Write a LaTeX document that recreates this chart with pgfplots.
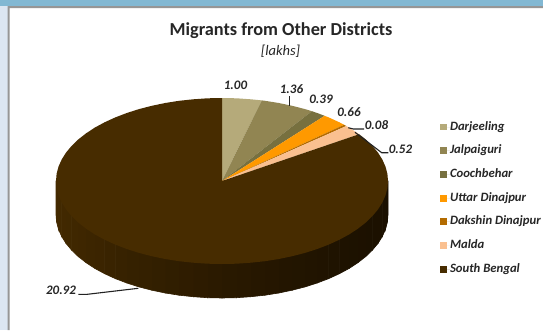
\documentclass[border=0pt]{standalone}
\usepackage{pgfplots}
\pgfplotsset{compat=1.18}
\usepackage{fontspec}
\setmainfont{Carlito}
\definecolor{cA}{HTML}{B5AA7A}
\definecolor{cB}{HTML}{918552}
\definecolor{cC}{HTML}{77703F}
\definecolor{cD}{HTML}{FF9900}
\definecolor{cE}{HTML}{B36B00}
\definecolor{cF}{HTML}{FAC090}
\definecolor{cG}{HTML}{472C00}
\definecolor{wL}{HTML}{442A00}
\definecolor{wR}{HTML}{190F00}
\definecolor{txt}{HTML}{262626}
\definecolor{ldr}{HTML}{222222}
\newcommand\strip[5]{\addplot[forget plot,fill=wL!#1!wR,draw=wL!#1!wR,line width=.6pt] coordinates {(#2,181)(#4,181)(#4,#5)(#2,#3)} --cycle;}
\newcommand\lab[3]{\node[font=\fontsize{13}{15}\selectfont\bfseries\itshape,text=txt,inner sep=0pt] at (axis cs:#1,#2) {#3};}
\begin{document}
\begin{tikzpicture}
\begin{axis}[hide axis,scale only axis,width=543pt,height=330pt,
  xmin=0,xmax=543,ymin=0,ymax=330,y dir=reverse,clip=false,
  legend cell align=left,
  legend style={at={(axis cs:440,121)},anchor=north west,draw=none,fill=none,inner sep=0pt,outer sep=0pt,
    font=\fontsize{12.7}{15}\selectfont\bfseries\itshape,text=txt,
    row sep=11.7pt,nodes={inner sep=0pt,text height=9pt,text depth=3pt}},
  legend image code/.code={\fill[#1] (0pt,-3.4pt) rectangle (6.8pt,3.4pt);\path (0pt,0pt) -- (10pt,0pt);},
]
% frame
\addplot[forget plot,fill=white,draw=none] coordinates {(0,0)(543,0)(543,330)(0,330)} --cycle;
\addplot[forget plot,fill={rgb,255:red,220;green,230;blue,242},draw=none] coordinates {(0,0)(8,0)(8,330)(0,330)} --cycle;
\addplot[forget plot,fill={rgb,255:red,130;green,184;blue,211},draw=none] coordinates {(0,0)(543,0)(543,6)(0,6)} --cycle;
\addplot[forget plot,fill={rgb,255:red,150;green,150;blue,150},draw=none] coordinates {(7.5,6)(543,6)(543,8)(9.5,8)(9.5,330)(7.5,330)} --cycle;
% wall
\strip{0}{388}{215}{387.4}{222.2}
\strip{3}{387.4}{222.2}{385.5}{229.4}
\strip{5}{385.5}{229.4}{382.3}{236.5}
\strip{6}{382.3}{236.5}{378}{243.4}
\strip{7}{378}{243.4}{372.4}{250.1}
\strip{8}{372.4}{250.1}{365.8}{256.5}
\strip{9}{365.8}{256.5}{358}{262.6}
\strip{10}{358}{262.6}{349.2}{268.4}
\strip{12}{349.2}{268.4}{339.4}{273.7}
\strip{14}{339.4}{273.7}{328.7}{278.6}
\strip{16}{328.7}{278.6}{317.2}{283}
\strip{18}{317.2}{283}{305}{286.9}
\strip{21}{305}{286.9}{292.2}{290.2}
\strip{24}{292.2}{290.2}{278.8}{293}
\strip{27}{278.8}{293}{265}{295.2}
\strip{30}{265}{295.2}{250.8}{296.7}
\strip{34}{250.8}{296.7}{236.5}{297.7}
\strip{38}{236.5}{297.7}{222}{298}
\strip{42}{222}{298}{207.5}{297.7}
\strip{46}{207.5}{297.7}{193.2}{296.7}
\strip{50}{193.2}{296.7}{179}{295.2}
\strip{54}{179}{295.2}{165.2}{293}
\strip{58}{165.2}{293}{151.8}{290.2}
\strip{62}{151.8}{290.2}{139}{286.9}
\strip{66}{139}{286.9}{126.8}{283}
\strip{70}{126.8}{283}{115.3}{278.6}
\strip{74}{115.3}{278.6}{104.6}{273.7}
\strip{78}{104.6}{273.7}{94.8}{268.4}
\strip{82}{94.8}{268.4}{86}{262.6}
\strip{85}{86}{262.6}{78.2}{256.5}
\strip{88}{78.2}{256.5}{71.6}{250.1}
\strip{91}{71.6}{250.1}{66}{243.4}
\strip{94}{66}{243.4}{61.7}{236.5}
\strip{96}{61.7}{236.5}{58.5}{229.4}
\strip{98}{58.5}{229.4}{56.6}{222.2}
\strip{100}{56.6}{222.2}{56}{215}
% top face: slices 1.00, 1.36, 0.39, 0.66, 0.08, 0.52, 20.92
\addplot[fill=cA,draw=none] coordinates {(222,181)(222,98)(236.5,98.3)(250.8,99.3)(261.8,100.4)} --cycle;
\addlegendentry{Darjeeling}
\addplot[fill=cB,draw=none] coordinates {(222,181)(261.8,100.4)(265,100.8)(278.8,103)(292.2,105.8)(305,109.1)(311.9,111.2)} --cycle;
\addlegendentry{Jalpaiguri}
\addplot[fill=cC,draw=none] coordinates {(222,181)(311.9,111.2)(317.2,113)(324.6,115.8)} --cycle;
\addlegendentry{Coochbehar}
\addplot[fill=cD,draw=none] coordinates {(222,181)(324.6,115.8)(328.7,117.4)(339.4,122.3)(344.1,124.8)} --cycle;
\addlegendentry{Uttar Dinajpur}
\addplot[fill=cE,draw=none] coordinates {(222,181)(344.1,124.8)(346.3,126)} --cycle;
\addlegendentry{Dakshin Dinajpur}
\addplot[fill=cF,draw=none] coordinates {(222,181)(346.3,126)(349.2,127.6)(358,133.4)(359.1,134.2)} --cycle;
\addlegendentry{Malda}
\addplot[fill=cG,draw=none] coordinates {(222,181)(359.1,134.2)(365.8,139.5)(372.4,145.9)(378,152.6)(382.3,159.5)(385.5,166.6)(387.4,173.8)(388,181)(387.4,188.2)(385.5,195.4)(382.3,202.5)(378,209.4)(372.4,216.1)(365.8,222.5)(358,228.6)(349.2,234.4)(339.4,239.7)(328.7,244.6)(317.2,249)(305,252.9)(292.2,256.2)(278.8,259)(265,261.2)(250.8,262.7)(236.5,263.7)(222,264)(207.5,263.7)(193.2,262.7)(179,261.2)(165.2,259)(151.8,256.2)(139,252.9)(126.8,249)(115.3,244.6)(104.6,239.7)(94.8,234.4)(86,228.6)(78.2,222.5)(71.6,216.1)(66,209.4)(61.7,202.5)(58.5,195.4)(56.6,188.2)(56,181)(56.6,173.8)(58.5,166.6)(61.7,159.5)(66,152.6)(71.6,145.9)(78.2,139.5)(86,133.4)(94.8,127.6)(104.6,122.3)(115.3,117.4)(126.8,113)(139,109.1)(151.8,105.8)(165.2,103)(179,100.8)(193.2,99.3)(207.5,98.3)(222,98)} --cycle;
\addlegendentry{South Bengal}
% leaders
\addplot[forget plot,ldr,line width=1.1pt] coordinates {(289.3,96)(289.3,106)};
\addplot[forget plot,ldr,line width=1.1pt] coordinates {(348.3,127.7)(353.3,129)(364,129)};
\addplot[forget plot,ldr,line width=1.1pt] coordinates {(355,132.3)(381.7,152.7)(388.3,152.7)};
\addplot[forget plot,ldr,line width=1.1pt] coordinates {(78.3,294.3)(87.3,294.3)(138.3,288.3)};
% text
\node[font=\fontsize{18.3}{20}\selectfont\bfseries,text=txt,inner sep=0pt] at (axis cs:281,30.5) {Migrants from Other Districts};
\node[font=\fontsize{14.5}{16}\selectfont\itshape,text=txt,inner sep=0pt] at (axis cs:280.5,51) {[lakhs]};
\lab{235.5}{85}{1.00}
\lab{291.5}{89}{1.36}
\lab{321}{99}{0.39}
\lab{349}{112}{0.66}
\lab{376.5}{125}{0.08}
\lab{400.5}{149}{0.52}
\lab{61}{290}{20.92}
\end{axis}
\end{tikzpicture}
\end{document}
